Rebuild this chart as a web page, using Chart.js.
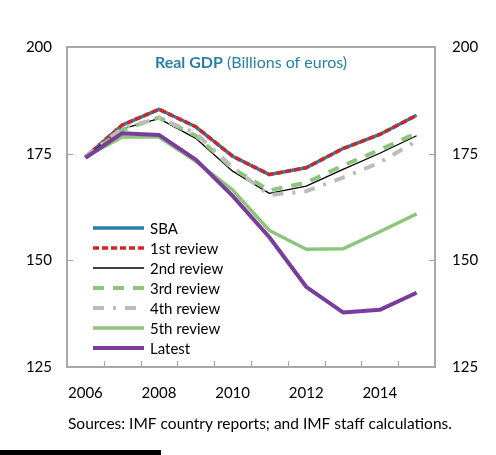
<!DOCTYPE html>
<html><head><meta charset="utf-8">
<script src="https://cdn.jsdelivr.net/npm/chart.js@4"></script>
<style>
html,body{margin:0;padding:0;background:#fff;overflow:hidden}
#wrap{position:relative;width:496px;height:455px}
#bar{position:absolute;left:0;top:450px;width:161px;height:5px;background:#000}
</style></head><body>
<div id="wrap"><canvas id="c" width="496" height="455"></canvas><div id="bar"></div></div>
<script>
const years = ['2006','2007','2008','2009','2010','2011','2012','2013','2014','2015'];
const shownYearLabels = ['2006','2008','2010','2012','2014'];
const yTickValues = [125,150,175,200];
const sba      = [174.2,181.7,185.4,181.3,174.4,170.1,171.7,176.2,179.5,184.0];
const review1  = [174.2,181.7,185.4,181.3,174.4,170.1,171.7,176.2,179.5,184.0];
const review2  = [174.2,180.8,183.2,178.6,170.9,165.7,167.4,171.3,175.1,179.2];
const review3  = [174.2,180.5,183.5,179.2,171.5,166.4,168.2,172.2,175.9,179.8];
const review4  = [174.2,181.0,183.3,179.8,171.8,165.3,166.2,169.4,172.9,178.0];
const review5  = [174.2,178.9,178.9,173.2,166.5,157.0,152.6,152.7,156.7,160.9];
const latest   = [174.0,179.8,179.4,173.6,165.1,155.4,143.8,137.8,138.4,142.4];
const seriesNames = ['SBA','1st review','2nd review','3rd review','4th review','5th review','Latest'];
const titleBold = 'Real GDP';
const titleRest = ' (Billions of euros)';
const sourceText = 'Sources: IMF country reports; and IMF staff calculations.';

const FONT = 'Lato';
const L = 67, R = 435, T = 47, B = 367;

const styles = [
  {c:'#2a7fa6', w:3.5, d:[]},
  {c:'#d42424', w:3.5, d:[6,3]},
  {c:'#000000', w:1.3, d:[]},
  {c:'#8ec47c', w:4, d:[11,9]},
  {c:'#bcbcbc', w:4, d:[11,9,3,9]},
  {c:'#8ec47c', w:3.5, d:[]},
  {c:'#7a3d9c', w:4, d:[]}
];
const allData = [sba, review1, review2, review3, review4, review5, latest];

const datasets = allData.map((d,i)=>({
  label: seriesNames[i], data: d, borderColor: styles[i].c, borderWidth: styles[i].w,
  borderDash: styles[i].d, pointRadius: 0, tension: 0, fill: false, order: 7-i,
  borderCapStyle: 'butt', borderJoinStyle: 'round'
}));

const deco = {
  id: 'deco',
  afterDraw(chart) {
    const ctx = chart.ctx, a = chart.chartArea, xs = chart.scales.x, ys = chart.scales.y;
    ctx.save();
    // frame
    ctx.strokeStyle = '#a8a8a8'; ctx.lineWidth = 2;
    ctx.strokeRect(a.left, a.top, a.right - a.left, a.bottom - a.top);
    ctx.lineWidth = 1.2;
    // x tick marks between categories
    for (let i = 1; i < years.length; i++) {
      const x = Math.round((xs.getPixelForValue(i-1) + xs.getPixelForValue(i)) / 2) + 0.5;
      ctx.beginPath(); ctx.moveTo(x, a.bottom); ctx.lineTo(x, a.bottom - 6); ctx.stroke();
    }
    // y tick marks (inside)
    yTickValues.slice(1, -1).forEach(v => {
      const y = Math.round(ys.getPixelForValue(v)) + 0.5;
      ctx.beginPath(); ctx.moveTo(a.left, y); ctx.lineTo(a.left + 6, y); ctx.stroke();
      ctx.beginPath(); ctx.moveTo(a.right - 6, y); ctx.lineTo(a.right, y); ctx.stroke();
    });
    // title
    ctx.fillStyle = '#2a7fa6';
    ctx.textBaseline = 'middle';
    ctx.font = 'bold 16px ' + FONT;
    const wb = ctx.measureText(titleBold).width;
    ctx.font = '16px ' + FONT;
    const wr = ctx.measureText(titleRest).width;
    const cx = 251, ty = 63;
    let x0 = cx - (wb + wr) / 2;
    ctx.textAlign = 'left';
    ctx.font = 'bold 16px ' + FONT; ctx.fillText(titleBold, x0, ty);
    ctx.font = '16px ' + FONT; ctx.fillText(titleRest, x0 + wb, ty);
    // legend
    const lx0 = 93, lx1 = 144, ly0 = 228, dy = 20;
    chart.data.datasets.forEach((ds, i) => {
      const y = ly0 + i * dy;
      ctx.strokeStyle = ds.borderColor; ctx.lineWidth = ds.borderWidth;
      ctx.setLineDash(ds.borderDash); ctx.lineCap = 'butt';
      ctx.beginPath(); ctx.moveTo(lx0, y); ctx.lineTo(lx1, y); ctx.stroke();
      ctx.setLineDash([]);
      ctx.fillStyle = '#000'; ctx.font = '15px ' + FONT; ctx.textAlign = 'left';
      ctx.fillText(ds.label, 150, y + 1);
    });
    // source
    ctx.fillStyle = '#000'; ctx.font = '15.5px ' + FONT; ctx.textAlign = 'left';
    ctx.fillText(sourceText, 68, 424);
    ctx.restore();
  }
};

new Chart(document.getElementById('c'), {
  type: 'line',
  data: { labels: years, datasets },
  options: {
    responsive: false, animation: false,
    layout: { padding: { top: T, bottom: 0, left: 0, right: 0 } },
    plugins: { legend: { display: false }, tooltip: { enabled: false }, title: { display: false } },
    scales: {
      x: {
        offset: true,
        grid: { display: false, drawTicks: false },
        border: { display: false },
        ticks: { autoSkip: false, maxRotation: 0, padding: 17, color: '#000', font: { family: FONT, size: 15 },
          callback: function(v, i) { const l = years[i]; return shownYearLabels.includes(l) ? l : ''; } },
        afterFit: s => { s.height = 455 - B; }
      },
      y: {
        position: 'left', min: 125, max: 200,
        grid: { display: false, drawTicks: false }, border: { display: false },
        ticks: { stepSize: 25, padding: 15, color: '#000', font: { family: FONT, size: 15 } },
        afterFit: s => { s.width = L; }
      },
      y2: {
        position: 'right', min: 125, max: 200,
        grid: { display: false, drawTicks: false }, border: { display: false },
        ticks: { stepSize: 25, padding: 17, color: '#000', font: { family: FONT, size: 15 } },
        afterFit: s => { s.width = 496 - R; }
      }
    }
  },
  plugins: [deco]
});
</script>
</body></html>
